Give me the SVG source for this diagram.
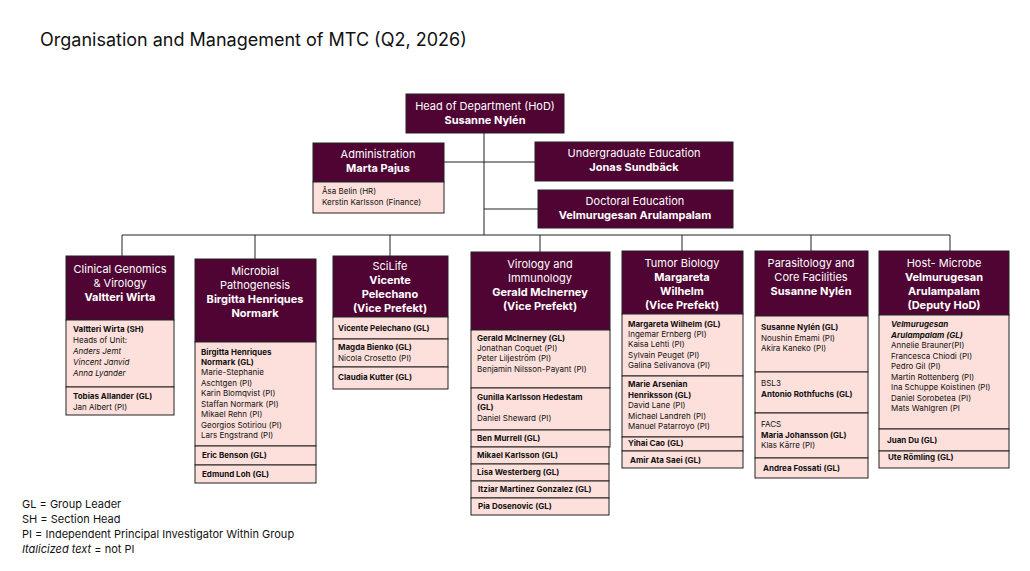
<svg xmlns="http://www.w3.org/2000/svg" width="1030" height="571" viewBox="0 0 1030 571">
<style>
text{font-family:Inter,"Liberation Sans",sans-serif;fill:#111}
.h{fill:#4f0433;stroke:#222;stroke-width:1}
.b{fill:#fde0db;stroke:#222;stroke-width:1}
.ht{fill:#fff;font-size:11px;text-anchor:middle}
.hb{font-weight:bold}
.t{font-size:8px}
.tb{font-size:8px;font-weight:bold}
.ti{font-size:8px;font-style:italic}
.c line{stroke:#222;stroke-width:1}
.lg{font-size:11px}
</style>
<rect width="1030" height="571" fill="#fff"/>
<text x="40" y="46" style="font-size:18px">Organisation and Management of MTC (Q2, 2026)</text>
<g class="c">
<line x1="484" y1="133" x2="484" y2="235"/>
<line x1="444" y1="162" x2="484" y2="162"/>
<line x1="484" y1="162" x2="535" y2="162"/>
<line x1="484" y1="209" x2="538" y2="209"/>
<line x1="122" y1="235" x2="950" y2="235"/>
<line x1="122" y1="235" x2="122" y2="256"/>
<line x1="255" y1="235" x2="255" y2="259"/>
<line x1="390" y1="235" x2="390" y2="256"/>
<line x1="540" y1="235" x2="540" y2="252"/>
<line x1="682" y1="235" x2="682" y2="251"/>
<line x1="811" y1="235" x2="811" y2="251"/>
<line x1="950" y1="235" x2="950" y2="251"/>
</g>
<g id="hod"><rect class="h" x="406" y="94" width="158" height="39"/>
<text class="ht" x="485" y="110">Head of Department (HoD)</text><text class="ht hb" x="485" y="124">Susanne Nylén</text></g>
<g id="admin"><rect class="h" x="313" y="143" width="131" height="39"/>
<text class="ht" x="378" y="158">Administration</text><text class="ht hb" x="378" y="172">Marta Pajus</text>
<rect class="b" x="313" y="182" width="131" height="31"/>
<text class="t" x="322" y="194">Åsa Belin (HR)</text><text class="t" x="322" y="205">Kerstin Karlsson (Finance)</text></g>
<g id="undergrad"><rect class="h" x="535" y="142" width="198" height="39"/>
<text class="ht" x="634" y="157">Undergraduate Education</text><text class="ht hb" x="634" y="171">Jonas Sundbäck</text></g>
<g id="doctoral"><rect class="h" x="538" y="190" width="195" height="38"/>
<text class="ht" x="635" y="205">Doctoral  Education</text><text class="ht hb" x="635" y="219">Velmurugesan Arulampalam</text></g>

<g id="col1"><rect class="h" x="66" y="256" width="108" height="64"/>
<text class="ht" x="120" y="273">Clinical Genomics</text><text class="ht" x="120" y="287">&amp; Virology</text><text class="ht hb" x="120" y="301">Valtteri Wirta</text>
<rect class="b" x="66" y="320" width="108" height="67"/><rect class="b" x="66" y="387" width="108" height="28"/>
<text class="tb" x="73" y="332">Valtteri Wirta (SH)</text><text class="t" x="73" y="343">Heads of Unit:</text>
<text class="ti" x="73" y="354">Anders Jemt</text><text class="ti" x="73" y="365">Vincent Janvid</text><text class="ti" x="73" y="376">Anna Lyander</text>
<text class="tb" x="73" y="399">Tobias Allander (GL)</text><text class="t" x="73" y="410">Jan Albert (PI)</text></g>

<g id="col2"><rect class="h" x="195" y="259" width="121" height="83"/>
<text class="ht" x="255" y="275">Microbial</text><text class="ht" x="255" y="289">Pathogenesis</text><text class="ht hb" x="255" y="303">Birgitta Henriques</text><text class="ht hb" x="255" y="317">Normark</text>
<rect class="b" x="195" y="342" width="121" height="104"/><rect class="b" x="195" y="446" width="121" height="19"/><rect class="b" x="195" y="465" width="121" height="18"/>
<text class="tb" x="201" y="355">Birgitta Henriques</text><text class="tb" x="201" y="365">Normark (GL)</text>
<text class="t" x="201" y="375">Marie-Stephanie</text><text class="t" x="201" y="386">Aschtgen (PI)</text><text class="t" x="201" y="396">Karin Blomqvist (PI)</text><text class="t" x="201" y="407">Staffan Normark (PI)</text><text class="t" x="201" y="417">Mikael Rehn (PI)</text><text class="t" x="201" y="428">Georgios Sotiriou (PI)</text><text class="t" x="201" y="438">Lars Engstrand (PI)</text>
<text class="tb" x="202" y="458">Eric Benson (GL)</text><text class="tb" x="202" y="477">Edmund Loh (GL)</text></g>

<g id="col3"><rect class="h" x="333" y="256" width="115" height="61"/>
<text class="ht" x="390" y="270">SciLife</text><text class="ht hb" x="390" y="284">Vicente</text><text class="ht hb" x="390" y="298">Pelechano</text><text class="ht hb" x="390" y="312">(Vice Prefekt)</text>
<rect class="b" x="333" y="317" width="115" height="22"/><rect class="b" x="333" y="339" width="115" height="28"/><rect class="b" x="333" y="367" width="115" height="22"/>
<text class="tb" x="338" y="331">Vicente Pelechano (GL)</text><text class="tb" x="338" y="350">Magda Bienko (GL)</text><text class="t" x="338" y="361">Nicola Crosetto (PI)</text><text class="tb" x="338" y="380">Claudia Kutter (GL)</text></g>

<g id="col4"><rect class="h" x="471" y="252" width="139" height="78"/>
<text class="ht" x="540" y="268">Virology and</text><text class="ht" x="540" y="282">Immunology</text><text class="ht hb" x="540" y="296">Gerald McInerney</text><text class="ht hb" x="540" y="310">(Vice Prefekt)</text>
<rect class="b" x="471" y="330" width="139" height="58"/><rect class="b" x="471" y="388" width="139" height="42"/><rect class="b" x="471" y="430" width="139" height="17"/>
<rect class="b" x="471" y="447" width="138" height="17"/><rect class="b" x="471" y="464" width="138" height="17"/><rect class="b" x="471" y="481" width="138" height="17"/><rect class="b" x="471" y="498" width="138" height="17"/>
<text class="tb" x="477" y="341">Gerald McInerney (GL)</text><text class="t" x="477" y="351">Jonathan Coquet (PI)</text><text class="t" x="477" y="361">Peter Liljeström (PI)</text><text class="t" x="477" y="372">Benjamin Nilsson-Payant (PI)</text>
<text class="tb" x="477" y="400">Gunilla Karlsson Hedestam</text><text class="tb" x="477" y="410">(GL)</text><text class="t" x="477" y="421">Daniel Sheward (PI)</text>
<text class="tb" x="477" y="441">Ben Murrell (GL)</text><text class="tb" x="477" y="458">Mikael Karlsson (GL)</text><text class="tb" x="477" y="475">Lisa Westerberg (GL)</text><text class="tb" x="478" y="492">Itziar Martinez Gonzalez (GL)</text><text class="tb" x="478" y="509">Pia Dosenovic (GL)</text></g>

<g id="col5"><rect class="h" x="622" y="251" width="121" height="63"/>
<text class="ht" x="682" y="267">Tumor Biology</text><text class="ht hb" x="682" y="281">Margareta</text><text class="ht hb" x="682" y="295">Wilhelm</text><text class="ht hb" x="682" y="309">(Vice Prefekt)</text>
<rect class="b" x="622" y="314" width="121" height="62"/><rect class="b" x="622" y="376" width="121" height="61"/><rect class="b" x="622" y="437" width="121" height="14"/><rect class="b" x="622" y="451" width="121" height="17"/>
<text class="tb" x="628" y="327">Margareta Wilhelm (GL)</text><text class="t" x="628" y="337">Ingemar Ernberg (PI)</text><text class="t" x="628" y="347">Kaisa Lehti (PI)</text><text class="t" x="628" y="358">Sylvain Peuget (PI)</text><text class="t" x="628" y="368">Galina Selivanova (PI)</text>
<text class="tb" x="628" y="387">Marie Arsenian</text><text class="tb" x="628" y="398">Henriksson (GL)</text><text class="t" x="628" y="408">David Lane (PI)</text><text class="t" x="628" y="419">Michael Landreh (PI)</text><text class="t" x="628" y="429">Manuel Patarroyo (PI)</text>
<text class="tb" x="628" y="446">Yihai Cao (GL)</text><text class="tb" x="630" y="463">Amir Ata Saei (GL)</text></g>

<g id="col6"><rect class="h" x="755" y="251" width="113" height="65"/>
<text class="ht" x="811" y="267">Parasitology and</text><text class="ht" x="811" y="281">Core Facilities</text><text class="ht hb" x="811" y="295">Susanne Nylén</text>
<rect class="b" x="755" y="316" width="113" height="56"/><rect class="b" x="755" y="372" width="113" height="41"/><rect class="b" x="755" y="413" width="113" height="45"/><rect class="b" x="755" y="458" width="113" height="20"/>
<text class="tb" x="761" y="330">Susanne Nylén (GL)</text><text class="t" x="761" y="341">Noushin Emami (PI)</text><text class="t" x="761" y="351">Akira Kaneko (PI)</text>
<text class="t" x="761" y="386">BSL3</text><text class="tb" x="761" y="397">Antonio Rothfuchs (GL)</text>
<text class="t" x="761" y="427">FACS</text><text class="tb" x="761" y="438">Maria Johansson (GL)</text><text class="t" x="761" y="448">Klas Kärre (PI)</text>
<text class="tb" x="763" y="471">Andrea Fossati (GL)</text></g>

<g id="col7"><rect class="h" x="879" y="251" width="130" height="64"/>
<text class="ht" x="944" y="267">Host- Microbe</text><text class="ht hb" x="944" y="281">Velmurugesan</text><text class="ht hb" x="944" y="295">Arulampalam</text><text class="ht hb" x="944" y="309">(Deputy HoD)</text>
<rect class="b" x="879" y="315" width="130" height="114"/><rect class="b" x="879" y="429" width="130" height="22"/><rect class="b" x="879" y="451" width="130" height="17"/>
<text class="tb" x="891" y="327" font-style="italic">Velmurugesan</text><text class="tb" x="891" y="338" font-style="italic">Arulampalam (GL)</text>
<text class="t" x="891" y="348">Annelie Brauner(PI)</text><text class="t" x="891" y="359">Francesca Chiodi (PI)</text><text class="t" x="891" y="369">Pedro Gil (PI)</text><text class="t" x="891" y="380">Martin Rottenberg (PI)</text><text class="t" x="891" y="390">Ina Schuppe Koistinen (PI)</text><text class="t" x="891" y="401">Daniel Sorobetea (PI)</text><text class="t" x="891" y="411">Mats Wahlgren (PI</text>
<text class="tb" x="887" y="443">Juan Du (GL)</text><text class="tb" x="888" y="460">Ute Römling (GL)</text></g>

<g id="legend">
<text class="lg" x="22" y="508">GL = Group Leader</text>
<text class="lg" x="22" y="523">SH = Section Head</text>
<text class="lg" x="22" y="538">PI = Independent Principal Investigator Within Group</text>
<text class="lg" x="22" y="553"><tspan font-style="italic">Italicized text</tspan> = not PI</text>
</g>
</svg>
